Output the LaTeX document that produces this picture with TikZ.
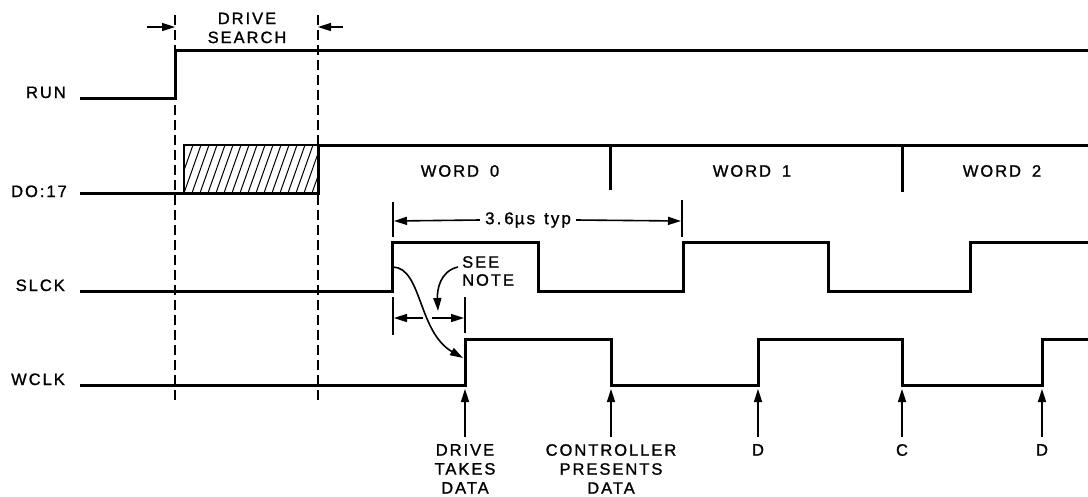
\documentclass[tikz,border=0pt]{standalone}
\usepackage{fontspec}
\setmainfont{Liberation Sans}[LetterSpace=12,FakeBold=1.2]
\usetikzlibrary{arrows.meta}
\begin{document}
\begin{tikzpicture}[x=1pt,y=-1pt,
  sig/.style={line width=3pt, line join=miter},
  grid/.style={line width=1.4pt, dash pattern=on 10pt off 5pt},
  lbl/.style={font=\fontsize{16.5}{19}\selectfont, inner sep=0pt},
  dim/.style={line width=1.6pt},
  hatch/.style={line width=1pt},
  tip/.style={line width=1.6pt,-{Triangle[length=13pt,width=8pt]}}]
\useasboundingbox[fill=white] (0,0) rectangle (1088,496);

% signal labels
\node[lbl, anchor=base east] (run) at (66,98) {RUN};
\node[lbl, anchor=base east] (do) at (67,197) {DO:17};
\node[lbl, anchor=base east] (slck) at (65,291) {SLCK};
\node[lbl, anchor=base east] (wclk) at (65,385) {WCLK};

% dashed boundaries
\coordinate (d1t) at (175,15); \coordinate (d1b) at (175,403);
\coordinate (d2t) at (318,15); \coordinate (d2b) at (318,403);
\draw[grid] (d1t) -- (d1b);
\draw[grid] (d2t) -- (d2b);

% drive search
\node[lbl, align=center] (ds) at (247,28) {DRIVE\\SEARCH};
\coordinate (a1) at (147,27); \coordinate (a2) at (343,27);
\draw[tip] (a1) -- (d1t |- a1);
\draw[tip] (a2) -- (d2t |- a2);

% RUN
\draw[sig] (80,98) -- (175,98) -- (175,50) -- (1088,50);

% DO:17
\draw[line width=1.2pt] (184,193) -- (184,145) -- (318,145);
\begin{scope}
  \clip (184,145) rectangle (318,193);
  \foreach \i in {0,...,20} \draw[hatch] ({168+8*\i},193) -- ++(17,-48);
\end{scope}
\draw[sig] (80,193) -- (318,193) -- (318,145) -- (1088,145);
\draw[sig] (610,145) -- (610,190);
\draw[sig] (902,145) -- (902,192);
\node[lbl] (w0) at (460,171) {WORD\hspace{11pt}0};
\node[lbl] (w1) at (752,171) {WORD\hspace{11pt}1};
\node[lbl] (w2) at (1002,171) {WORD\hspace{11pt}2};

% SLCK
\draw[sig] (80,291) -- (392,291) -- (392,242) -- (538,242) -- (538,291) -- (683,291) -- (683,242) -- (828,242) -- (828,291) -- (970,291) -- (970,242) -- (1088,242);

% 3.6 us dimension
\draw[dim] (393,202) -- (393,237);
\draw[dim] (682,200) -- (682,237);
\node[lbl, inner xsep=5pt, fill=white, font=\fontsize{17}{19}\selectfont] (per) at (528,220) {3.\hspace{3pt}6\hspace{1pt}µs\hspace{9pt}typ};
\draw[tip] (per.west) -- (394,221);
\draw[tip] (per.east) -- (681,221);

% SEE NOTE
\node[lbl, align=left, anchor=north west, font=\fontsize{16.5}{18}\selectfont] (note) at (462,256) {SEE\\NOTE};
\draw[tip] (458,267) .. controls (440,271) and (437,290) .. (438,311);
\draw[dim] (393,297) -- (393,335);
\draw[dim] (465,297) -- (465,333);
\draw[tip] (423,318) -- (394,318);
\draw[tip] (432,318) -- (464,318);
\draw[tip] (393,267) .. controls (422,268) and (418,332) .. (463,358);

% WCLK
\draw[sig] (80,385) -- (465,385) -- (465,339) -- (611,339) -- (611,385) -- (758,385) -- (758,339) -- (902,339) -- (902,385) -- (1042,385) -- (1042,339) -- (1088,339);

% bottom labels and arrows
\node[lbl, align=center, anchor=north] (l1) at (465,444) {DRIVE\\TAKES\\DATA};
\node[lbl, align=center, anchor=north] (l2) at (611,444) {CONTROLLER\\PRESENTS\\DATA};
\node[lbl, anchor=north] (l3) at (758,444) {D};
\node[lbl, anchor=north] (l4) at (902,444) {C};
\node[lbl, anchor=north] (l5) at (1042,444) {D};
\foreach \n/\x in {l1/465,l2/611,l3/758,l4/902,l5/1042}
  \draw[tip] ([yshift=7pt]\n.north) -- (\x,389);
\end{tikzpicture}
\end{document}
